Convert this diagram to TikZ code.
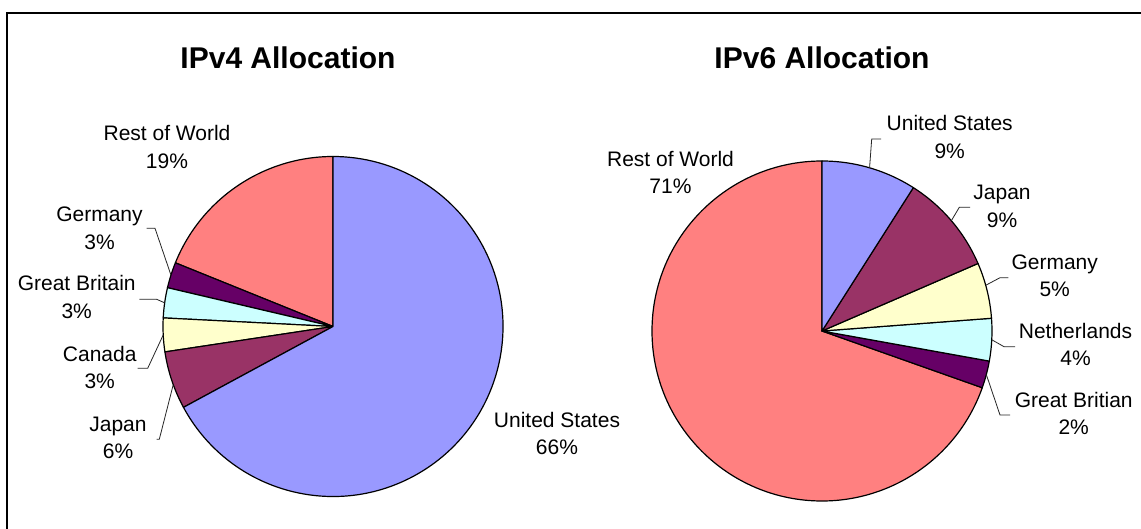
\documentclass[tikz,border=0pt]{standalone}
\usepackage{fontspec}
\setmainfont{Liberation Sans}
\definecolor{usblue}{HTML}{9999FF}
\definecolor{jpplum}{HTML}{993366}
\definecolor{paleyellow}{HTML}{FFFFCC}
\definecolor{palecyan}{HTML}{CCFFFF}
\definecolor{deeppurple}{HTML}{660066}
\definecolor{salmon}{HTML}{FF8080}
\newcommand\pieslice[4]{%
  \filldraw[wedge, fill=#4] (#1) -- ++(#2:170pt) arc[start angle=#2, end angle=#3, radius=170pt] -- cycle;}
\begin{document}
\begin{tikzpicture}[x=1pt,y=-1pt,
  lbl/.style={font=\fontsize{21}{27.5}\selectfont, align=center, anchor=base, inner sep=0pt},
  ttl/.style={font=\fontsize{30}{36}\selectfont\bfseries, anchor=base, inner sep=0pt},
  wedge/.style={draw=black, line width=1.2pt, line join=round},
  leader/.style={draw=black!85, line width=0.8pt}]
\useasboundingbox (0,0) rectangle (1141,529);
\fill[white] (0,0) rectangle (1141,529);
\draw[line width=1.5pt] (7,529) -- (7,13) -- (1141,13);

% titles
\node[ttl] (t4) at (288,69) {IPv4 Allocation};
\node[ttl] (t6) at (822,69) {IPv6 Allocation};

% pie 1
\coordinate (c1) at (333,326.5);
\pieslice{c1}{90}{158}{salmon}
\pieslice{c1}{158}{166.8}{deeppurple}
\pieslice{c1}{166.8}{177.1}{palecyan}
\pieslice{c1}{177.1}{188.6}{paleyellow}
\pieslice{c1}{188.6}{208.4}{jpplum}
\pieslice{c1}{208.4}{450}{usblue}

% pie 2
\coordinate (c2) at (822,331);
\pieslice{c2}{90}{340.5}{salmon}
\pieslice{c2}{340.5}{349.8}{deeppurple}
\pieslice{c2}{349.8}{364.3}{palecyan}
\pieslice{c2}{4.3}{23.4}{paleyellow}
\pieslice{c2}{23.4}{57.5}{jpplum}
\pieslice{c2}{57.5}{90}{usblue}

% labels pie 1 (anchor = baseline of the last line)
\node[lbl] (l1rw) at (167,168.5) {Rest of World\\19\%};
\node[lbl] (l1de) at (99.5,249.2) {Germany\\3\%};
\node[lbl] (l1gb) at (76.7,318.5) {Great Britain\\3\%};
\node[lbl] (l1ca) at (99.7,388.5) {Canada\\3\%};
\node[lbl] (l1jp) at (118,458.5) {Japan\\6\%};
\node[lbl] (l1us) at (557,454.7) {United States\\66\%};

% labels pie 2
\node[lbl] (l2rw) at (670.5,193.7) {Rest of World\\71\%};
\node[lbl] (l2us) at (949.7,158.2) {United States\\9\%};
\node[lbl] (l2jp) at (1002,227.5) {Japan\\9\%};
\node[lbl] (l2de) at (1054.7,297) {Germany\\5\%};
\node[lbl] (l2nl) at (1075.5,366) {Netherlands\\4\%};
\node[lbl] (l2gb) at (1073.7,434.7) {Great Britian\\2\%};

% leader lines pie 1
\coordinate (a1de) at (146.7,228.3); \coordinate (b1de) at (155,228.3);
\coordinate (p1de) at ([shift={(162.4:170pt)}]c1);
\coordinate (a1gb) at (139.3,299.3); \coordinate (b1gb) at (156.7,299.3);
\coordinate (p1gb) at ([shift={(172:170pt)}]c1);
\coordinate (a1ca) at (137.7,368.3); \coordinate (b1ca) at (147.7,368.3);
\coordinate (p1ca) at ([shift={(182.85:170pt)}]c1);
\coordinate (a1jp) at (156.7,439.3); \coordinate (b1jp) at (159.3,439.3);
\coordinate (p1jp) at ([shift={(200:170pt)}]c1);
\draw[leader] (a1de) -- (b1de) -- (p1de);
\draw[leader] (a1gb) -- (b1gb) -- (p1gb);
\draw[leader] (a1ca) -- (b1ca) -- (p1ca);
\draw[leader] (a1jp) -- (b1jp) -- (p1jp);

% leader lines pie 2
\coordinate (a2us) at (881,139); \coordinate (b2us) at (871.7,139);
\coordinate (p2us) at ([shift={(73.75:170pt)}]c2);
\coordinate (a2jp) at (970,207.3); \coordinate (b2jp) at (959.3,207.3);
\coordinate (p2jp) at ([shift={(40.45:170pt)}]c2);
\coordinate (a2de) at (1008.3,277.7); \coordinate (b2de) at (1000,277.7);
\coordinate (p2de) at ([shift={(15.6:170pt)}]c2);
\coordinate (a2nl) at (1015,346.7); \coordinate (b2nl) at (1004,346.7);
\coordinate (p2nl) at ([shift={(-2.95:170pt)}]c2);
\coordinate (a2gb) at (1010,415); \coordinate (b2gb) at (1000,415);
\coordinate (p2gb) at ([shift={(-14.85:170pt)}]c2);
\draw[leader] (a2us) -- (b2us) -- (p2us);
\draw[leader] (a2jp) -- (b2jp) -- (p2jp);
\draw[leader] (a2de) -- (b2de) -- (p2de);
\draw[leader] (a2nl) -- (b2nl) -- (p2nl);
\draw[leader] (a2gb) -- (b2gb) -- (p2gb);
\end{tikzpicture}
\end{document}
